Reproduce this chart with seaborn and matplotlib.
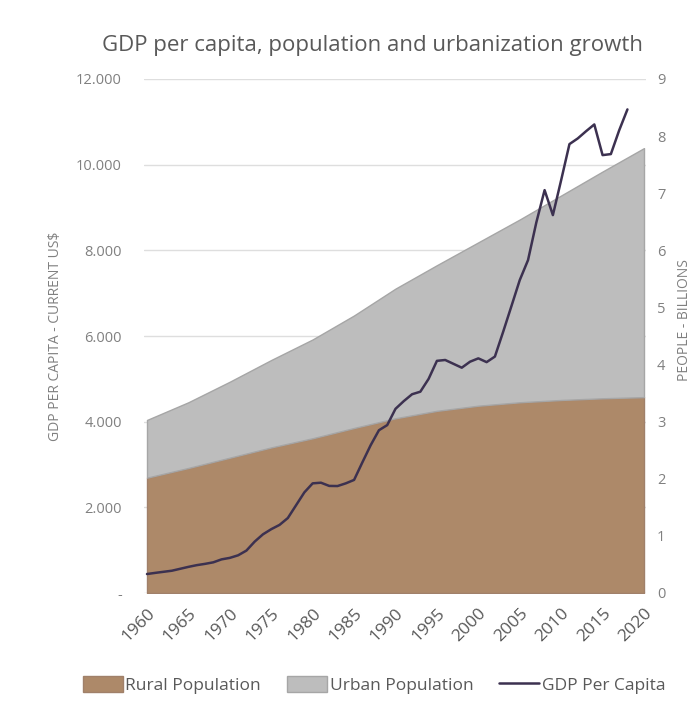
import numpy as np
import pandas as pd
import matplotlib
matplotlib.use("Agg")
import matplotlib.pyplot as plt
import seaborn as sns
from matplotlib.patches import Patch
from matplotlib.lines import Line2D
from matplotlib.ticker import FuncFormatter

# ---------------- data ----------------
gdp_years = list(range(1960, 2019))
gdp_per_capita = [443, 470, 495, 520, 565, 610, 650, 680, 716, 785,
                  820, 880, 990, 1200, 1370, 1490, 1590, 1750, 2050, 2350,
                  2560, 2575, 2500, 2497, 2560, 2640, 3050, 3450, 3800, 3920,
                  4300, 4480, 4640, 4700, 5000, 5420, 5440, 5350, 5260, 5400,
                  5478, 5390, 5520, 6100, 6700, 7305, 7772, 8650, 9406, 8823,
                  9640, 10480, 10612, 10780, 10939, 10223, 10247, 10800, 11290]

pop_years = [1960, 1965, 1970, 1975, 1980, 1985, 1990, 1995, 2000, 2005, 2010, 2015, 2020]
rural_pop = [2.02, 2.19, 2.37, 2.55, 2.71, 2.89, 3.06, 3.19, 3.28, 3.34, 3.38, 3.41, 3.43]
urban_pop = [1.01, 1.15, 1.33, 1.53, 1.73, 1.97, 2.27, 2.55, 2.86, 3.20, 3.58, 3.97, 4.36]

x_tick_labels = [str(y) for y in range(1960, 2021, 5)]
gdp_ticks = [0, 2000, 4000, 6000, 8000, 10000, 12000]
pop_ticks = list(range(0, 10))

title = "GDP per capita, population and urbanization growth"
series_names = ["Rural Population", "Urban Population", "GDP Per Capita"]

gdp_df = pd.DataFrame({"year": gdp_years, "gdp": gdp_per_capita})
pop_df = pd.DataFrame({"year": pop_years, "rural": rural_pop, "urban": urban_pop})

# ---------------- style ----------------
sns.set_theme(style="white")
plt.rcParams["font.family"] = ["Open Sans", "DejaVu Sans"]

BROWN = "#ad8969"
BROWN_EDGE = "#a0806a"
GRAY = "#bdbdbd"
GRAY_EDGE = "#a6a6a6"
LINE = "#3c3150"
TXT = "#595959"
TICK = "#808080"

fig = plt.figure(figsize=(6.92, 7.17), dpi=100)
ax = fig.add_axes([144 / 692, 1 - 593 / 717, (646 - 144) / 692, (593 - 79) / 717])
ax_pop = ax.twinx()
ax_line = ax.twinx()

x0, x1 = 1960 - 3 / 8.28, 2020 + 2 / 8.28
for a in (ax, ax_pop, ax_line):
    a.set_xlim(x0, x1)
    for s in a.spines.values():
        s.set_visible(False)
    a.set_facecolor("none")

# grid / left axis (GDP)
ax.set_ylim(0, 12000)
ax.set_yticks(gdp_ticks)
ax.yaxis.set_major_formatter(FuncFormatter(
    lambda v, p: "-" if v == 0 else f"{int(v):,}".replace(",", ".")))
ax.grid(axis="y", color="#dedede", linewidth=1)
ax.grid(axis="x", visible=False)
ax.tick_params(axis="y", length=0, pad=16, labelsize=10.5, labelcolor=TICK)
ax.set_ylabel("GDP PER CAPITA - CURRENT US$", fontsize=10, color=TICK, labelpad=9)

# x axis
ax.set_xticks(pop_years)
ax.set_xticklabels(x_tick_labels, rotation=45, ha="right", rotation_mode="anchor")
ax.tick_params(axis="x", length=0, pad=9, labelsize=12.5, labelcolor=TXT)

# population areas (right axis)
polys = ax_pop.stackplot(pop_df["year"], pop_df["rural"], pop_df["urban"],
                         colors=[BROWN, GRAY], linewidth=1)
polys[0].set_edgecolor(BROWN_EDGE)
polys[1].set_edgecolor(GRAY_EDGE)
ax_pop.set_ylim(0, 9)
ax_pop.set_yticks(pop_ticks)
ax_pop.tick_params(axis="y", length=0, pad=8, labelsize=10.5, labelcolor=TICK)
ax_pop.grid(False)

# GDP line
sns.lineplot(data=gdp_df, x="year", y="gdp", ax=ax_line, color=LINE, linewidth=1.8)
ax_line.set_ylim(0, 12000)
ax_line.set_yticks([])
ax_line.set_ylabel("")
ax_line.set_xlabel("")
ax_line.grid(False)
ax.set_xlabel("")

fig.text(373 / 692, 1 - 45 / 717, title, ha="center", va="center", fontsize=16, color=TXT)
fig.text(684 / 692, 1 - 320 / 717, "PEOPLE - BILLIONS", rotation=90, ha="center",
         va="center", fontsize=10, color=TICK)

handles = [Patch(facecolor=BROWN, edgecolor=BROWN_EDGE),
           Patch(facecolor=GRAY, edgecolor=GRAY_EDGE),
           Line2D([0], [0], color=LINE, linewidth=1.8)]
fig.legend(handles, series_names, loc="center", bbox_to_anchor=(374 / 692, 1 - 685 / 717),
           ncol=3, frameon=False, fontsize=12.5, handlelength=2.3, handleheight=1.0,
           handletextpad=0.15, columnspacing=1.5, labelcolor=TXT)

fig.savefig("out.png", dpi=100, facecolor="white")
